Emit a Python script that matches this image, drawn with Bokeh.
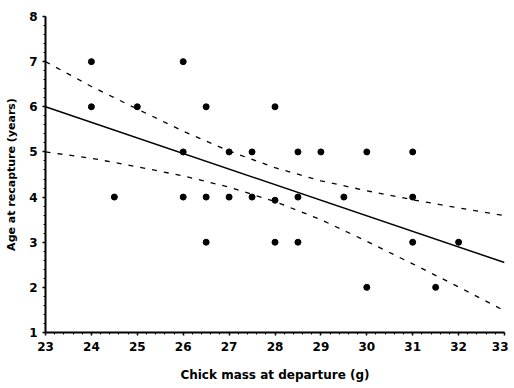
from bokeh.plotting import figure
from bokeh.embed import file_html
from bokeh.resources import INLINE
from bokeh.models import Range1d, FixedTicker

# Observations: chick mass at departure (g) vs age at recapture (years)
mass = [24, 26,
        24, 25, 26.5, 28,
        26, 27, 27.5, 28.5, 29, 30, 31,
        24.5, 26, 26.5, 27, 27.5, 28, 28.5, 29.5, 31,
        26.5, 28, 28.5, 31, 32,
        30, 31.5]
age = [7, 7,
       6, 6, 6, 6,
       5, 5, 5, 5, 5, 5, 5,
       4, 4, 4, 4, 4, 3.93, 4, 4, 4,
       3, 3, 3, 3, 3,
       2, 2]

# Regression line and confidence band
fit_x = [23, 33]
fit_y = [6.0, 2.55]
band_x = [23, 24, 25, 26, 27, 28, 29, 30, 31, 32, 33]
upper = [7.0, 6.45, 5.95, 5.46, 5.02, 4.65, 4.36, 4.14, 3.94, 3.76, 3.59]
lower = [5.0, 4.86, 4.67, 4.47, 4.22, 3.90, 3.50, 3.02, 2.52, 2.01, 1.48]

x_ticks = [23, 24, 25, 26, 27, 28, 29, 30, 31, 32, 33]
y_ticks = [1, 2, 3, 4, 5, 6, 7, 8]

p = figure(width=508, height=384,
           x_range=Range1d(23, 33), y_range=Range1d(1, 8),
           output_backend="svg", toolbar_location=None,
           min_border_left=45, min_border_right=4,
           min_border_top=16, min_border_bottom=52)
p.outline_line_color = None
p.grid.visible = False
p.background_fill_color = "white"
p.border_fill_color = "white"

p.line(fit_x, fit_y, line_color="black", line_width=1.5)
p.line(band_x, upper, line_color="black", line_width=1.3, line_dash="5 7")
p.line(band_x, lower, line_color="black", line_width=1.3, line_dash="5 7")
p.scatter(mass, age, size=6, color="black")

p.xaxis.ticker = FixedTicker(ticks=x_ticks, minor_ticks=[23 + i * 0.2 for i in range(51)])
p.yaxis.ticker = FixedTicker(ticks=y_ticks, minor_ticks=[1 + i * 0.2 for i in range(36)])

for ax in (p.xaxis[0], p.yaxis[0]):
    ax.axis_line_color = "black"
    ax.axis_line_width = 2
    ax.major_tick_line_color = "black"
    ax.major_tick_line_width = 1.5
    ax.major_tick_in = 0
    ax.major_tick_out = 3
    ax.minor_tick_line_color = "black"
    ax.minor_tick_in = 0
    ax.minor_tick_out = 2
    ax.major_label_text_font = "DejaVu Sans"
    ax.major_label_text_font_style = "bold"
    ax.major_label_text_font_size = "12px"
    ax.major_label_text_color = "black"
    ax.axis_label_text_font = "DejaVu Sans"
    ax.axis_label_text_font_style = "bold"
    ax.axis_label_text_color = "black"

p.xaxis.axis_label = "Chick mass at departure (g)"
p.xaxis.axis_label_text_font_size = "12px"
p.xaxis.major_label_standoff = 6
p.xaxis.axis_label_standoff = 14
p.yaxis.axis_label = "Age at recapture (years)"
p.yaxis.axis_label_text_font_size = "11px"
p.yaxis.major_label_standoff = 5
p.yaxis.axis_label_standoff = 8

open("out.html", "w").write(file_html(p, INLINE))
